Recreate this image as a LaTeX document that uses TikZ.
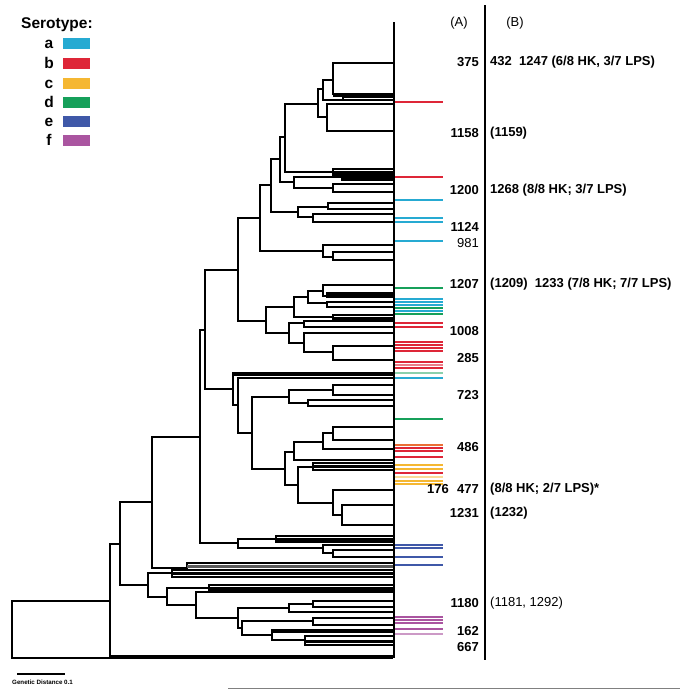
\documentclass[tikz,border=0pt]{standalone}
\usepackage{fontspec}
\setmainfont{Liberation Sans}
\definecolor{sera}{RGB}{38,170,210}
\definecolor{serb}{RGB}{222,38,56}
\definecolor{serc}{RGB}{245,183,50}
\definecolor{serd}{RGB}{22,160,90}
\definecolor{sere}{RGB}{63,88,168}
\definecolor{serf}{RGB}{170,85,160}
\tikzset{
  branch/.style={line width=1.6pt, line join=miter},
  band/.style={line width=3pt},
  tipline/.style={line width=2.5pt},
  lbl/.style={font=\fontsize{13}{15}\selectfont\bfseries, inner sep=0pt},
  lblr/.style={font=\fontsize{13}{15}\selectfont, inner sep=0pt},
  legfont/.style={font=\fontsize{15.5}{17}\selectfont\bfseries, inner sep=0pt},
}
\begin{document}
\begin{tikzpicture}[x=1pt, y=-1pt]
\useasboundingbox (0,0) rectangle (680,689);
% legend
\node[legfont, anchor=west] (legtitle) at (21,25) {Serotype:};
\foreach \y/\t/\c in {43/a/sera, 63/b/serb, 83/c/serc, 102/d/serd, 121/e/sere, 140/f/serf}{
  \node[legfont, anchor=base] (leg\t) at (49,\y+5) {\t};
  \fill[\c] (63,\y-5.5) rectangle (90,\y+5.5);
}
% tree: vertical at x, upper child at (xa,ya), lower child at (xb,yb)
\foreach \x/\ya/\xa/\yb/\xb in {
  12/601/110/658/393, 110/544/120/656/393, 120/502/152/585/148,
  152/437/200/568/187, 187/563/393/570/393,
  148/573/172/597/167, 172/570/393/577/393, 167/588/209/605/196,
  209/585/393/591/393, 196/592/393/618/238, 238/608/289/628/242,
  289/604/313/612/393, 313/601/393/607/393, 242/621/313/635/272,
  313/618/393/625/393, 272/630/393/640/305, 305/636/393/645/393,
  200/330/205/543/238, 238/539/276/548/323, 276/536/393/542/393,
  323/545/393/553/333, 333/550/393/557/393,
  205/270/238/389/233, 233/373/393/405/238, 238/378/393/433/252,
  252/397/289/469/285, 289/390/333/403/308, 333/385/393/395/393,
  308/400/393/406/393, 285/452/294/485/298, 294/442/323/460/393,
  323/433/333/449/393, 333/427/393/440/393, 298/467/313/503/333,
  313/463/393/470/393, 333/490/393/515/342, 342/505/393/525/393,
  238/218/260/321/266, 266/307/294/333/289, 294/297/308/317/333,
  308/291/323/303/327, 323/285/393/296/327, 327/293/393/297/393,
  327/302/393/307/393, 333/315/393/320/393, 289/323/304/343/304,
  304/321/393/327/393, 304/333/393/352/333, 333/346/393/360/393,
  260/185/271/251/323, 271/159/280/212/298, 280/137/285/182/294,
  285/104/318/172/333, 318/89/323/117/327, 323/80/333/100/343,
  333/63/393/94/393, 343/97/393/100/393, 327/104/393/131/393,
  333/169/393/175/393, 294/177/342/188/333, 342/174/393/180/393,
  333/184/393/192/393, 298/207/328/217/313, 328/203/393/209/393,
  313/214/393/222/393, 323/245/393/257/333, 333/252/393/260/393}
  \draw[branch] (\xa,\ya) -- (\x,\ya) -- (\x,\yb) -- (\xb,\yb);
% dense groups of leaves
\foreach \x/\y in {333/95, 333/172, 342/177, 327/295, 333/318, 233/374,
  313/466, 276/539, 172/573, 209/588, 272/631, 305/641}
  \draw[band] (\x,\y) -- (393,\y);
\draw[band, black!65] (187,566) -- (393,566);
\draw[branch] (394,22) -- (394,658);
% serotype of each leaf
\foreach \y/\c in {102/serb, 177/serb, 200/sera, 218/sera, 222/sera, 241/sera,
  288/serd, 299/sera, 302/sera, 305/sera, 308/serd, 311/sera, 314/serd,
  323/serb, 327/serb, 342/serb, 345/serb, 348/serb, 351/serb,
  362/serb, 365/serb!60, 368/serb, 373/serd!50, 378/sera, 419/serd,
  445/serb!50!serc, 448/serb, 451/serb, 457/serb, 465/serc, 469/serc,
  473/serb, 477/serc!50, 481/serc, 484/serc,
  545/sere, 548/sere, 557/sere, 565/sere,
  617/serf, 620/serf, 623/serf, 629/serf, 634/serf!60}
  \draw[\c, tipline] (395,\y) -- (443,\y);
% columns
\draw[line width=1.6pt] (485,5) -- (485,660);
\node[lblr] (colA) at (459,23) {(A)};
\node[lblr] (colB) at (515,23) {(B)};
\foreach \y/\t [count=\i] in {62/375, 133/1158, 190/1200, 227/1124, 284/1207,
  331/1008, 358/285, 395/723, 447/486, 489/477, 513/1231, 603/1180,
  631/162, 647/667}
  \node[lbl, anchor=east] (a\i) at (479,\y) {\t};
\node[lblr, anchor=east] (a981) at (479,243) {981};
\node[lbl, anchor=east] (a176) at (449,489) {176};
\foreach \y/\t [count=\i] in {62/{432\ \ 1247 (6/8 HK, 3/7 LPS)}, 133/(1159),
  190/{1268 (8/8 HK; 3/7 LPS)}, 284/{(1209)\ \ 1233 (7/8 HK; 7/7 LPS)},
  489/{(8/8 HK; 2/7 LPS)*}, 513/(1232)}
  \node[lbl, anchor=west] (b\i) at (490,\y) {\t};
\node[lblr, anchor=west] (b1180) at (490,603) {(1181, 1292)};
% scale bar
\draw[line width=1.4pt] (17,674) -- (65,674);
\node[font=\fontsize{6.2}{7}\selectfont\bfseries, anchor=west, inner sep=0pt] (scale) at (12,682) {Genetic Distance 0.1};
\draw[gray, line width=1pt] (228,688) -- (680,688);
\end{tikzpicture}
\end{document}
